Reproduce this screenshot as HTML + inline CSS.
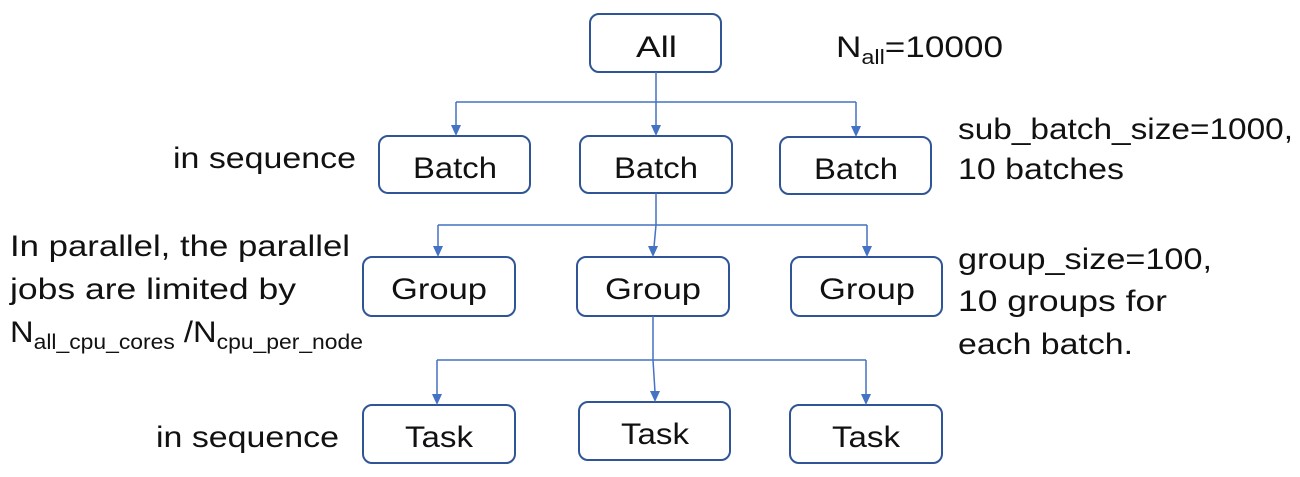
<!DOCTYPE html>
<html><head><meta charset="utf-8"><style>
html,body{margin:0;padding:0;background:#fff;}
svg{display:block;}
text{font-family:"Liberation Sans","Noto Sans CJK SC",sans-serif;font-size:30px;fill:#111;}
.b{fill:#fff;stroke:#2f5597;stroke-width:2;}
.l{stroke:#4472c4;stroke-width:1.5;fill:none;}
.a{fill:#4472c4;}
</style></head><body>
<svg width="1300" height="477" viewBox="0 0 1300 477">
<rect class="b" x="590" y="14" width="131" height="58" rx="9"/>
<rect class="b" x="379" y="136" width="151" height="57" rx="9"/>
<rect class="b" x="580" y="136" width="152" height="57" rx="9"/>
<rect class="b" x="780" y="137" width="151" height="57" rx="9"/>
<rect class="b" x="363" y="257" width="152" height="59" rx="9"/>
<rect class="b" x="577" y="257" width="152" height="59" rx="9"/>
<rect class="b" x="791" y="257" width="151" height="59" rx="9"/>
<rect class="b" x="363" y="405" width="152" height="58" rx="9"/>
<rect class="b" x="579" y="402" width="151" height="58" rx="9"/>
<rect class="b" x="790" y="405" width="152" height="58" rx="9"/>
<text x="636" y="57" textLength="41" lengthAdjust="spacingAndGlyphs">All</text>
<text x="413" y="178" textLength="84" lengthAdjust="spacingAndGlyphs">Batch</text>
<text x="614" y="178" textLength="84" lengthAdjust="spacingAndGlyphs">Batch</text>
<text x="814" y="179" textLength="84" lengthAdjust="spacingAndGlyphs">Batch</text>
<text x="391" y="299" textLength="96" lengthAdjust="spacingAndGlyphs">Group</text>
<text x="605" y="299" textLength="96" lengthAdjust="spacingAndGlyphs">Group</text>
<text x="819" y="299" textLength="96" lengthAdjust="spacingAndGlyphs">Group</text>
<text x="405" y="447" textLength="68" lengthAdjust="spacingAndGlyphs">Task</text>
<text x="621" y="444" textLength="68" lengthAdjust="spacingAndGlyphs">Task</text>
<text x="832" y="447" textLength="68" lengthAdjust="spacingAndGlyphs">Task</text>
<path class="l" d="M656 72 V102 M456 102 H856 M456 102 V126 M656 102 V126 M856 102 V127"/>
<polygon class="a" points="451,125 461,125 456,136"/>
<polygon class="a" points="651,125 661,125 656,136"/>
<polygon class="a" points="851,126 861,126 856,137"/>
<path class="l" d="M656 193 V225 L654 247 M438 225 H867 M438 225 V247 M867 225 V247"/>
<polygon class="a" points="433,246 443,246 438,257"/>
<polygon class="a" points="648,246 658,246 653,257"/>
<polygon class="a" points="862,246 872,246 867,257"/>
<path class="l" d="M653 316 V360 L655 392 M437 360 H866 M437 360 V395 M866 360 V395"/>
<polygon class="a" points="432,394 442,394 437,405"/>
<polygon class="a" points="650,391 660,391 655,402"/>
<polygon class="a" points="861,394 871,394 866,405"/>
<text x="836" y="57" textLength="167" lengthAdjust="spacingAndGlyphs">N<tspan font-size="20" dy="7">all</tspan><tspan dy="-7">=10000</tspan></text>
<text x="958" y="139" textLength="335" lengthAdjust="spacingAndGlyphs">sub_batch_size=1000,</text>
<text x="958" y="179" textLength="166" lengthAdjust="spacingAndGlyphs">10 batches</text>
<text x="958" y="269" textLength="254" lengthAdjust="spacingAndGlyphs">group_size=100,</text>
<text x="958" y="311" textLength="209" lengthAdjust="spacingAndGlyphs">10 groups for</text>
<text x="958" y="354" textLength="175" lengthAdjust="spacingAndGlyphs">each batch.</text>
<text x="173" y="168" textLength="183" lengthAdjust="spacingAndGlyphs">in sequence</text>
<text x="10" y="256" textLength="340" lengthAdjust="spacingAndGlyphs">In parallel, the parallel</text>
<text x="10" y="299" textLength="286" lengthAdjust="spacingAndGlyphs">jobs are limited by</text>
<text x="10" y="342" textLength="353" lengthAdjust="spacingAndGlyphs">N<tspan font-size="21" dy="7">all_cpu_cores</tspan><tspan dy="-7"> /N</tspan><tspan font-size="21" dy="7">cpu_per_node</tspan></text>
<text x="156" y="447" textLength="183" lengthAdjust="spacingAndGlyphs">in sequence</text>
</svg>
</body></html>
